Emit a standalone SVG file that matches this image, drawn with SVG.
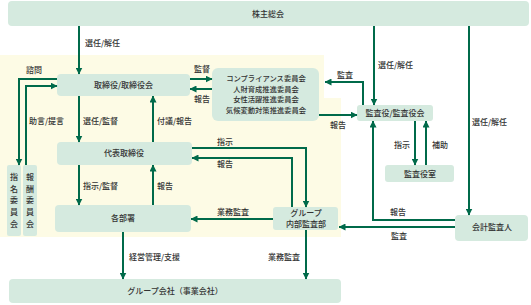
<svg xmlns="http://www.w3.org/2000/svg" width="531" height="305" viewBox="0 0 531 305">
<defs>
<style>
.box{fill:#d5eadf}
.t{font-family:"Noto Sans CJK JP","Noto Sans",sans-serif;font-size:8px;fill:#333;font-weight:500}
.c{text-anchor:middle}
.s{font-size:7.3px}
.ln{fill:none;stroke:#006a4a;stroke-width:2;marker-end:url(#ah)}
</style>
<marker id="ah" markerWidth="7" markerHeight="7" refX="6.5" refY="3.5" orient="auto" markerUnits="userSpaceOnUse">
<path d="M0,0 L7,3.5 L0,7 z" fill="#006a4a"/>
</marker>
</defs>
<rect width="531" height="305" fill="#fff"/>
<path d="M0,55 H324 V98 H341 V237 H0 Z" fill="#fdfbe5"/>

<g id="n-shareholders"><rect class="box" x="8" y="1" width="521" height="25" rx="4"/><text class="t c" x="268" y="17">株主総会</text></g>
<g id="n-board"><rect class="box" x="57" y="74" width="133" height="22" rx="4"/><text class="t c" x="123.5" y="88">取締役/取締役会</text></g>
<g id="n-committees"><rect class="box" x="212" y="68" width="107" height="53" rx="6"/>
<text class="t c s" x="266" y="81"><tspan x="266" y="81">コンプライアンス委員会</tspan><tspan x="266" y="91.5">人財育成推進委員会</tspan><tspan x="266" y="102">女性活躍推進委員会</tspan><tspan x="266" y="112.5">気候変動対策推進委員会</tspan></text></g>
<g id="n-auditors"><rect class="box" x="357" y="105" width="76" height="16" rx="3"/><text class="t c" x="395" y="116">監査役/監査役会</text></g>
<g id="n-auditoffice"><rect class="box" x="385" y="165" width="69" height="17" rx="3"/><text class="t c" x="420" y="177">監査役室</text></g>
<g id="n-ceo"><rect class="box" x="57" y="142" width="135" height="23" rx="4"/><text class="t c" x="124" y="156">代表取締役</text></g>
<g id="n-depts"><rect class="box" x="55" y="205" width="136" height="27" rx="4"/><text class="t c" x="123" y="221">各部署</text></g>
<g id="n-internalaudit"><rect class="box" x="273" y="207" width="65" height="23" rx="3"/><text class="t c" x="306" y="216"><tspan x="306" y="216">グループ</tspan><tspan x="306" y="227">内部監査部</tspan></text></g>
<g id="n-accountant"><rect class="box" x="455" y="215" width="73" height="26" rx="4"/><text class="t c" x="492" y="230">会計監査人</text></g>
<g id="n-group"><rect class="box" x="9" y="279" width="332" height="24" rx="4"/><text class="t c" x="175" y="294">グループ会社（事業会社）</text></g>
<g id="n-nomination"><rect class="box" x="7" y="165" width="14" height="71" rx="2"/><text class="t c"><tspan x="14" y="180">指</tspan><tspan x="14" y="191.7">名</tspan><tspan x="14" y="203.4">委</tspan><tspan x="14" y="215.1">員</tspan><tspan x="14" y="226.8">会</tspan></text></g>
<g id="n-compensation"><rect class="box" x="23" y="165" width="14" height="71" rx="2"/><text class="t c"><tspan x="30" y="180">報</tspan><tspan x="30" y="191.7">酬</tspan><tspan x="30" y="203.4">委</tspan><tspan x="30" y="215.1">員</tspan><tspan x="30" y="226.8">会</tspan></text></g>

<g id="connectors">
<path class="ln" d="M79,26 V74"/>
<path class="ln" d="M374,26 V105"/>
<path class="ln" d="M469,26 V215"/>
<path class="ln" d="M190,79 H212"/>
<path class="ln" d="M212,89 H190"/>
<path class="ln" d="M363,105 V82 H325"/>
<path class="ln" d="M319,115 H357"/>
<path class="ln" d="M79,96 V142"/>
<path class="ln" d="M153,142 V96"/>
<path class="ln" d="M79,165 V205"/>
<path class="ln" d="M153,205 V165"/>
<path class="ln" d="M192,148 H306 V207"/>
<path class="ln" d="M292,207 V158 H192"/>
<path class="ln" d="M273,219 H191"/>
<path class="ln" d="M306,230 V279"/>
<path class="ln" d="M123,232 V279"/>
<path class="ln" d="M455,227 H339"/>
<path class="ln" d="M455,220 H373 V121"/>
<path class="ln" d="M415,121 V165"/>
<path class="ln" d="M426,165 V121"/>
<path class="ln" d="M57,79 H19 V165"/>
<path class="ln" d="M26,165 V86 H57"/>
</g>

<g id="labels">
<text class="t" x="85" y="46">選任/解任</text>
<text class="t" x="378" y="68">選任/解任</text>
<text class="t" x="472" y="125">選任/解任</text>
<text class="t" x="194" y="72">監督</text>
<text class="t" x="194" y="102">報告</text>
<text class="t" x="337" y="78">監査</text>
<text class="t" x="330" y="128">報告</text>
<text class="t" x="83" y="124">選任/監督</text>
<text class="t" x="157" y="124">付議/報告</text>
<text class="t" x="83" y="189">指示/監督</text>
<text class="t" x="157" y="189">報告</text>
<text class="t" x="217" y="145">指示</text>
<text class="t" x="217" y="167">報告</text>
<text class="t" x="217" y="215">業務監査</text>
<text class="t" x="268" y="260">業務監査</text>
<text class="t" x="129" y="260">経営管理/支援</text>
<text class="t" x="391" y="239">監査</text>
<text class="t" x="390" y="215">報告</text>
<text class="t" x="394" y="148">指示</text>
<text class="t" x="432" y="148">補助</text>
<text class="t" x="26" y="73">諮問</text>
<text class="t" x="29" y="124">助言/提言</text>
</g>
</svg>
